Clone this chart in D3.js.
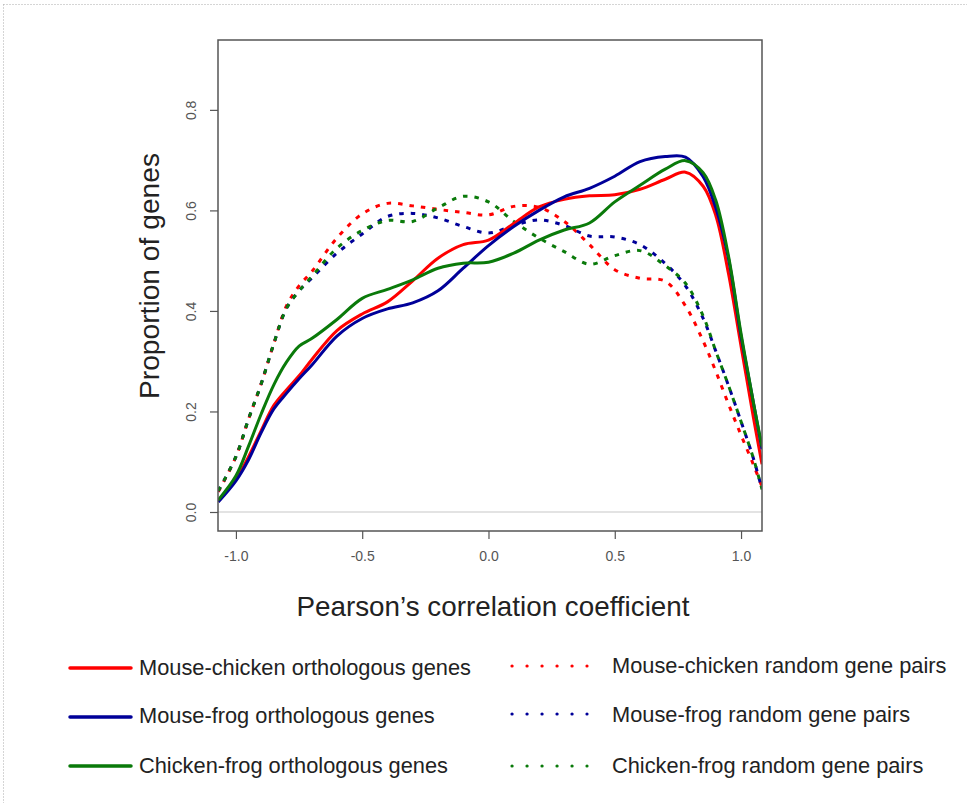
<!DOCTYPE html>
<html>
<head>
<meta charset="utf-8">
<script src="https://cdn.jsdelivr.net/npm/d3@7/dist/d3.min.js"></script>
<style>
  html, body { margin: 0; padding: 0; background: #fff; }
  svg { display: block; font-family: "Liberation Sans", Arial, sans-serif; }
</style>
</head>
<body>
<svg id="chart" width="967" height="803"></svg>
<script>
// ---- data ----
const xGrid = [-1.07, -1.0, -0.95, -0.9, -0.85, -0.8, -0.75, -0.7, -0.6, -0.5, -0.4, -0.3, -0.2, -0.1, 0, 0.1, 0.2, 0.3, 0.4, 0.5, 0.6, 0.7, 0.78, 0.85, 0.9, 0.95, 1.0, 1.05, 1.083];
const mouseChickenOrtho = [0.022, 0.065, 0.110, 0.162, 0.212, 0.243, 0.271, 0.303, 0.361, 0.394, 0.418, 0.460, 0.505, 0.532, 0.541, 0.574, 0.607, 0.622, 0.629, 0.631, 0.642, 0.662, 0.676, 0.648, 0.590, 0.475, 0.330, 0.185, 0.095];
const mouseFrogOrtho    = [0.020, 0.062, 0.104, 0.158, 0.205, 0.236, 0.265, 0.292, 0.350, 0.385, 0.404, 0.416, 0.440, 0.485, 0.530, 0.568, 0.600, 0.627, 0.644, 0.668, 0.697, 0.707, 0.706, 0.667, 0.605, 0.505, 0.350, 0.215, 0.125];
const chickenFrogOrtho  = [0.024, 0.072, 0.131, 0.195, 0.253, 0.298, 0.330, 0.345, 0.383, 0.425, 0.443, 0.462, 0.485, 0.495, 0.497, 0.515, 0.541, 0.561, 0.575, 0.617, 0.650, 0.682, 0.699, 0.675, 0.620, 0.510, 0.355, 0.215, 0.130];
const mouseChickenRand  = [0.040, 0.110, 0.185, 0.255, 0.335, 0.410, 0.450, 0.478, 0.545, 0.593, 0.614, 0.609, 0.602, 0.596, 0.591, 0.608, 0.606, 0.578, 0.532, 0.482, 0.465, 0.459, 0.410, 0.340, 0.280, 0.215, 0.153, 0.093, 0.050];
const mouseFrogRand     = [0.042, 0.110, 0.185, 0.255, 0.335, 0.405, 0.440, 0.465, 0.515, 0.553, 0.588, 0.594, 0.585, 0.568, 0.555, 0.570, 0.581, 0.570, 0.549, 0.547, 0.532, 0.494, 0.450, 0.385, 0.320, 0.252, 0.180, 0.105, 0.045];
const chickenFrogRand   = [0.042, 0.110, 0.185, 0.255, 0.335, 0.405, 0.440, 0.468, 0.525, 0.560, 0.580, 0.578, 0.605, 0.628, 0.617, 0.578, 0.545, 0.518, 0.493, 0.510, 0.520, 0.490, 0.455, 0.390, 0.320, 0.252, 0.180, 0.105, 0.045];

const xTicks = [-1.0, -0.5, 0.0, 0.5, 1.0];
const yTicks = [0.0, 0.2, 0.4, 0.6, 0.8];
const seriesNames = ["Mouse-chicken orthologous genes", "Mouse-frog orthologous genes", "Chicken-frog orthologous genes",
                     "Mouse-chicken random gene pairs", "Mouse-frog random gene pairs", "Chicken-frog random gene pairs"];
const seriesValues = [mouseChickenOrtho, mouseFrogOrtho, chickenFrogOrtho, mouseChickenRand, mouseFrogRand, chickenFrogRand];
const xTitle = "Pearson\u2019s correlation coefficient";
const yTitle = "Proportion of genes";

// ---- styling / layout ----
const colors = ["#ff0000", "#000099", "#0a7a0a", "#ff0000", "#000099", "#0a7a0a"];
const dotted = [false, false, false, true, true, true];
const box = { left: 218, right: 762, top: 40, bottom: 531 };

const svg = d3.select("#chart");

// outer dotted frame
svg.append("line").attr("x1", 3.5).attr("x2", 967).attr("y1", 4.5).attr("y2", 4.5)
  .attr("stroke", "#aaa").attr("stroke-width", 1).attr("stroke-dasharray", "1 2");
svg.append("line").attr("x1", 3.5).attr("x2", 3.5).attr("y1", 4.5).attr("y2", 803)
  .attr("stroke", "#aaa").attr("stroke-width", 1).attr("stroke-dasharray", "1 2");

const x = d3.scaleLinear().domain([-1.071, 1.083]).range([box.left, box.right]);
const y = d3.scaleLinear().domain([-0.0378, 0.939]).range([box.bottom, box.top]);

svg.append("defs").append("clipPath").attr("id", "clip")
  .append("rect").attr("x", box.left).attr("y", box.top)
  .attr("width", box.right - box.left).attr("height", box.bottom - box.top);

// zero line
svg.append("line").attr("x1", box.left).attr("x2", box.right)
  .attr("y1", y(0)).attr("y2", y(0)).attr("stroke", "#c8c8c8").attr("stroke-width", 1.2);

// curves
const line = d3.line().x(d => x(d[0])).y(d => y(d[1])).curve(d3.curveCatmullRom.alpha(0.5));
const order = [3, 4, 5, 0, 1, 2];
const g = svg.append("g").attr("clip-path", "url(#clip)");
order.forEach(i => {
  const pts = xGrid.map((xv, k) => [xv, seriesValues[i][k]]);
  g.append("path").attr("d", line(pts)).attr("fill", "none")
    .attr("stroke", colors[i]).attr("stroke-width", 3)
    .attr("stroke-dasharray", dotted[i] ? "4.5 7" : null)
    .attr("stroke-linejoin", "round");
});

// axes
const xAxis = d3.axisBottom(x).tickValues(xTicks).tickFormat(d3.format(".1f")).tickSize(8).tickPadding(12);
const gx = svg.append("g").attr("transform", `translate(0,${box.bottom})`).call(xAxis);
gx.select(".domain").remove();
gx.selectAll("line").attr("stroke", "#555").attr("stroke-width", 1.2);
gx.selectAll("text").attr("font-size", 14).attr("fill", "#555")
  .attr("font-family", "Liberation Sans, Arial, sans-serif")
  .text(d => d < 0 ? "-" + Math.abs(d).toFixed(1) : d.toFixed(1));

const yAxis = d3.axisLeft(y).tickValues(yTicks).tickFormat(d3.format(".1f")).tickSize(8).tickPadding(0);
const gy = svg.append("g").attr("transform", `translate(${box.left},0)`).call(yAxis);
gy.select(".domain").remove();
gy.selectAll("line").attr("stroke", "#555").attr("stroke-width", 1.2);
gy.selectAll("text").attr("font-size", 14).attr("fill", "#555")
  .attr("font-family", "Liberation Sans, Arial, sans-serif")
  .attr("x", null).attr("dy", null)
  .attr("text-anchor", "middle")
  .attr("transform", "translate(-27,0) rotate(-90) translate(0,5)");

// box
svg.append("rect").attr("x", box.left).attr("y", box.top)
  .attr("width", box.right - box.left).attr("height", box.bottom - box.top)
  .attr("fill", "none").attr("stroke", "#555").attr("stroke-width", 1.5);

// titles
svg.append("text").attr("x", 493).attr("y", 616)
  .attr("text-anchor", "middle").attr("font-size", 27.8).attr("fill", "#222").text(xTitle);
svg.append("text").attr("transform", "translate(159,276) rotate(-90)")
  .attr("text-anchor", "middle").attr("font-size", 28.2).attr("fill", "#222").text(yTitle);

// legend
const legendLeft = [
  { i: 0, y: 668, ty: 675 }, { i: 1, y: 717, ty: 723 }, { i: 2, y: 766, ty: 773 }
];
const legendRight = [
  { i: 3, y: 666, ty: 673 }, { i: 4, y: 714, ty: 722 }, { i: 5, y: 766, ty: 773 }
];
legendLeft.forEach(d => {
  svg.append("line").attr("x1", 70).attr("x2", 131).attr("y1", d.y).attr("y2", d.y)
    .attr("stroke", colors[d.i]).attr("stroke-width", 3.5).attr("stroke-linecap", "round");
  svg.append("text").attr("x", 139).attr("y", d.ty).attr("font-size", 21.8).attr("fill", "#222").text(seriesNames[d.i]);
});
legendRight.forEach(d => {
  svg.append("line").attr("x1", 512).attr("x2", 587).attr("y1", d.y).attr("y2", d.y)
    .attr("stroke", colors[d.i]).attr("stroke-width", 3.2).attr("stroke-linecap", "round")
    .attr("stroke-dasharray", "0.1 14.9");
  svg.append("text").attr("x", 612).attr("y", d.ty).attr("font-size", 21.8).attr("fill", "#222").text(seriesNames[d.i]);
});
</script>
</body>
</html>
